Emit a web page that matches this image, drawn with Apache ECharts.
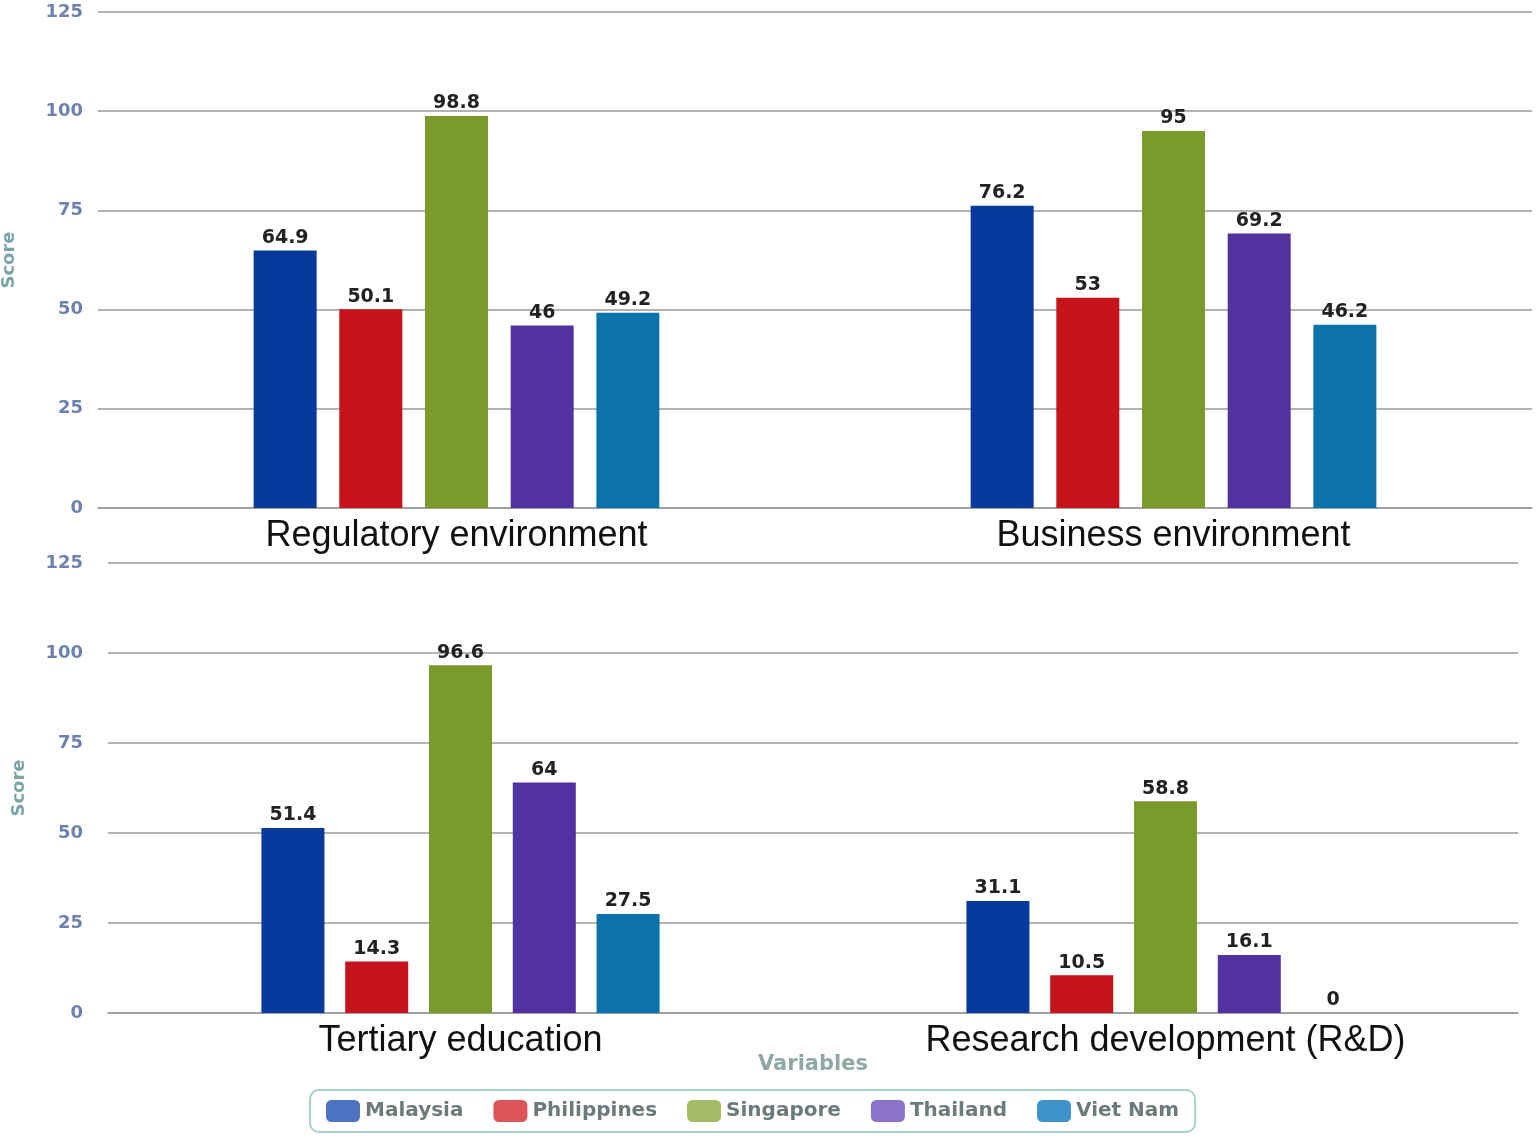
<!DOCTYPE html>
<html>
<head>
<meta charset="utf-8">
<script src="https://cdn.jsdelivr.net/npm/echarts@6/dist/echarts.min.js"></script>
<style>
  html, body { margin: 0; padding: 0; background: #fff; }
  #chart { width: 1537px; height: 1136px; }
</style>
</head>
<body>
<div id="chart"></div>
<script>
// categories for the two panels
const topCategories = ['Regulatory environment', 'Business environment'];
const bottomCategories = ['Tertiary education', 'Research development (R&D)'];
const countries = ['Malaysia', 'Philippines', 'Singapore', 'Thailand', 'Viet Nam'];

// scores in order: regulatory, business, tertiary, R&D
const malaysia = [64.9, 76.2, 51.4, 31.1];
const philippines = [50.1, 53, 14.3, 10.5];
const singapore = [98.8, 95, 96.6, 58.8];
const thailand = [46, 69.2, 64, 16.1];
const vietNam = [49.2, 46.2, 27.5, 0];

const yTicks = [0, 25, 50, 75, 100, 125];

const scores = [malaysia, philippines, singapore, thailand, vietNam];
const barColors = ['#073a9c', '#c5131a', '#7b9a2c', '#5232a0', '#0b72aa'];
const legendColors = ['#4d73c2', '#dc5558', '#a3bb64', '#8c72c9', '#3f93c9'];

let myChart = echarts.init(document.getElementById('chart'));

function yAxis(gridIndex, margin) {
  return {
    type: 'value',
    gridIndex: gridIndex,
    min: yTicks[0],
    max: yTicks[yTicks.length - 1],
    interval: 25,
    name: 'Score',
    nameLocation: 'middle',
    nameGap: 80,
    nameTextStyle: { color: '#7aa5a8', fontSize: 18, fontWeight: 'bold', fontFamily: 'DejaVu Sans' },
    axisLine: { show: false },
    axisTick: { show: false },
    axisLabel: { color: '#6d82ad', fontSize: 18, fontWeight: 'bold', fontFamily: 'DejaVu Sans', margin: margin },
    splitLine: { lineStyle: { color: '#9a9a9a', width: 1.5 } }
  };
}

function xAxis(gridIndex, cats) {
  return {
    type: 'category',
    gridIndex: gridIndex,
    data: cats,
    axisLine: { lineStyle: { color: '#9a9a9a', width: 1.5 } },
    axisTick: { show: false },
    axisLabel: { color: '#111', fontSize: 36, fontFamily: 'Liberation Sans', margin: 10 }
  };
}

const gaps = ['36%', '33%'];
let series = [];
for (let i = 0; i < countries.length; i++) {
  for (let g = 0; g < 2; g++) {
    series.push({
      name: countries[i],
      type: 'bar',
      xAxisIndex: g,
      yAxisIndex: g,
      barWidth: 63,
      barGap: gaps[g],
      itemStyle: { color: barColors[i] },
      label: {
        show: true,
        position: 'top',
        distance: 3,
        color: '#222',
        fontSize: 19,
        fontWeight: 'bold',
        fontFamily: 'DejaVu Sans'
      },
      data: scores[i].slice(g * 2, g * 2 + 2)
    });
  }
}

let xBottom = xAxis(1, bottomCategories);
xBottom.name = 'Variables';
xBottom.nameLocation = 'middle';
xBottom.nameGap = 41;
xBottom.nameMoveOverlap = false;
xBottom.nameTextStyle = { color: '#8fa8a6', fontSize: 21, fontWeight: 'bold', fontFamily: 'DejaVu Sans' };

let option = {
  animation: false,
  grid: [
    { left: 98, width: 1434, top: 12, height: 496, outerBoundsMode: 'none' },
    { left: 108, width: 1410, top: 563, height: 450, outerBoundsMode: 'none' }
  ],
  legend: {
    data: countries.map((c, i) => ({ name: c, itemStyle: { color: legendColors[i] } })),
    left: 310,
    top: 1090,
    icon: 'roundRect',
    itemWidth: 34,
    itemHeight: 22,
    itemGap: 30,
    padding: [10, 16],
    borderColor: '#a8cfcc',
    borderWidth: 2,
    borderRadius: 9,
    textStyle: { color: '#6b7b7b', fontSize: 20, fontWeight: 'bold', fontFamily: 'DejaVu Sans' }
  },
  xAxis: [xAxis(0, topCategories), xBottom],
  yAxis: [yAxis(0, 15), yAxis(1, 25)],
  series: series
};
myChart.setOption(option);
</script>
</body>
</html>
